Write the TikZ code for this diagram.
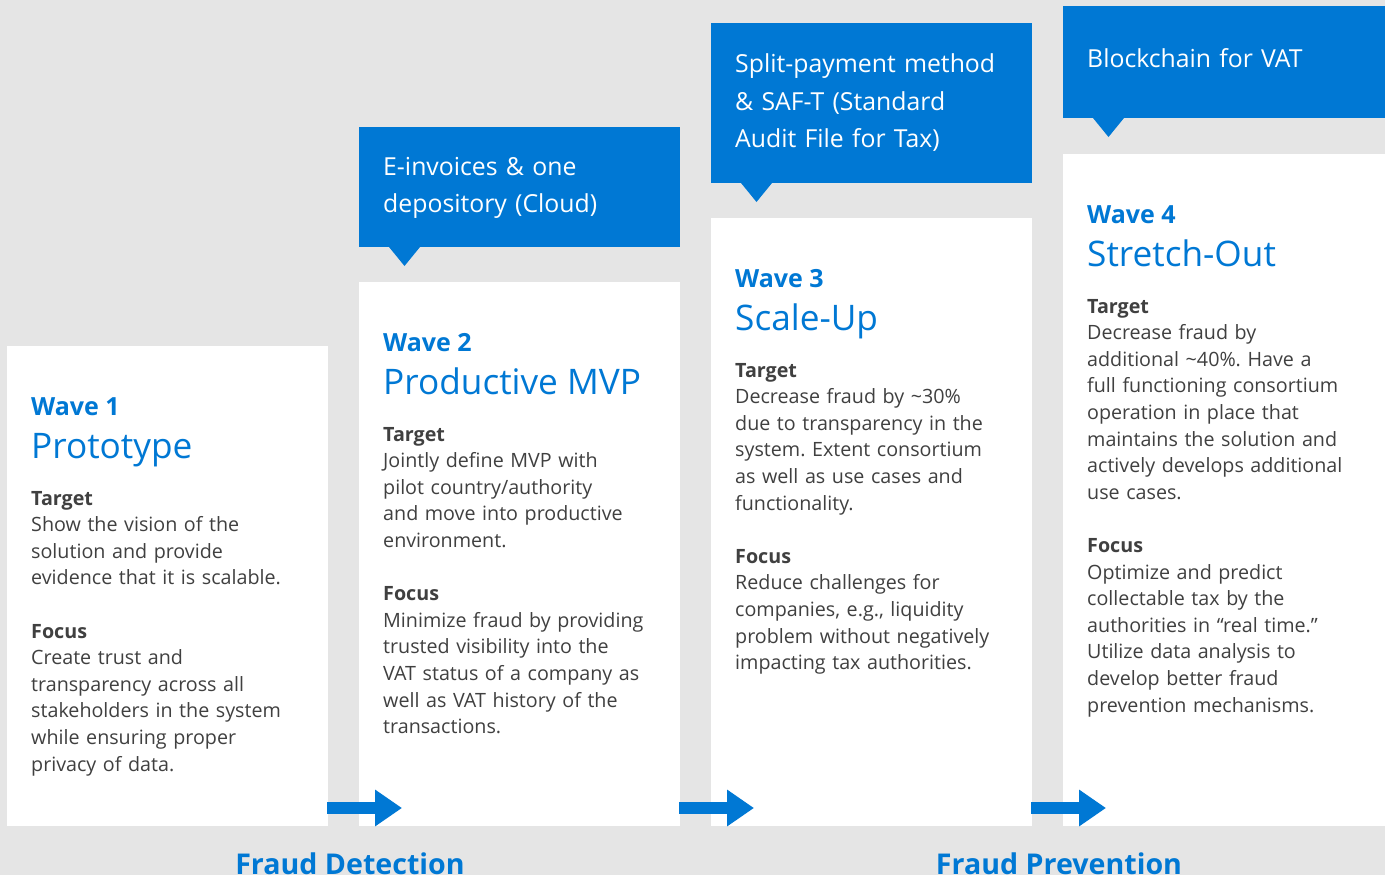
\documentclass[tikz,border=0pt]{standalone}
\usepackage{fontspec}
\setmainfont{Open Sans}
\usetikzlibrary{arrows.meta}
\definecolor{msblue}{HTML}{0078D4}
\definecolor{bgcol}{HTML}{E5E5E5}
\definecolor{bodytext}{HTML}{404040}
\frenchspacing
\begin{document}
\begin{tikzpicture}[x=1pt,y=-1pt,
  card/.style={fill=white, draw=none, anchor=north west, minimum width=321pt, inner sep=0pt, outer sep=0pt},
  callout/.style={fill=msblue, draw=none, anchor=north west, minimum width=321pt, inner sep=0pt, outer sep=0pt},
  calltext/.style={anchor=base west, text=white, inner sep=0pt, align=left, text width=300pt, font=\fontsize{24.8pt}{37.5pt}\selectfont},
  wavelbl/.style={anchor=base west, text=msblue, inner sep=0pt, font=\bfseries\fontsize{25pt}{30pt}\selectfont},
  wavetitle/.style={anchor=base west, text=msblue, inner sep=0pt, font=\fontsize{35.2pt}{40pt}\selectfont},
  body/.style={anchor=base west, text=bodytext, inner sep=0pt, align=left, text width=300pt, font=\fontsize{19.7pt}{26.6pt}\selectfont},
  flow/.style={draw=msblue, line width=12pt, -{Triangle[length=27pt,width=35pt]}},
  phase/.style={anchor=base, text=msblue, inner sep=0pt, font=\bfseries\fontsize{28.6pt}{34pt}\selectfont}
]
\useasboundingbox (0,0) rectangle (1385,875);
\fill[bgcol] (0,0) rectangle (1385,875);

% cards
\node[card, minimum height=480pt] (c1) at (7,346) {};
\node[card, minimum height=544pt] (c2) at (359,282) {};
\node[card, minimum height=608pt] (c3) at (711,218) {};
\node[card, minimum height=672pt, minimum width=322pt] (c4) at (1063,154) {};

% callouts
\node[callout, minimum height=120pt] (b2) at (359,127) {};
\node[callout, minimum height=160pt] (b3) at (711,23) {};
\node[callout, minimum height=112pt, minimum width=322pt] (b4) at (1063,6) {};
\foreach \b in {b2,b3,b4}{
  \fill[msblue] ([xshift=30pt]\b.south west) -- ++(31pt,0pt) -- ++(-15.5pt,-19pt) -- cycle;
}

\node[calltext] (t2) at (383,175) {E-invoices \& one\\depository (Cloud)};
\node[calltext] (t3) at (735,73) {Split-payment method\\\& SAF-T (Standard\\Audit File for Tax)};
\node[calltext] (t4) at (1087,67) {Blockchain for VAT};

% titles
\node[wavelbl] (w1) at (31,415) {Wave 1};
\node[wavetitle] (n1) at (31,458) {Prototype};
\node[wavelbl] (w2) at (383,351) {Wave 2};
\node[wavetitle] (n2) at (383,394) {Productive MVP};
\node[wavelbl] (w3) at (735,287) {Wave 3};
\node[wavetitle] (n3) at (735,330) {Scale-Up};
\node[wavelbl] (w4) at (1087,223) {Wave 4};
\node[wavetitle] (n4) at (1087,266) {Stretch-Out};

% body texts
\node[body] (d1) at (31,505) {\textbf{Target}\\Show the vision of the\\solution and provide\\evidence that it is scalable.\\[26.6pt]
\textbf{Focus}\\Create trust and\\transparency across all\\stakeholders in the system\\while ensuring proper\\privacy of data.};
\node[body] (d2) at (383,441) {\textbf{Target}\\Jointly define MVP with\\pilot country/authority\\and move into productive\\environment.\\[26.6pt]
\textbf{Focus}\\Minimize fraud by providing\\trusted visibility into the\\VAT status of a company as\\well as VAT history of the\\transactions.};
\node[body] (d3) at (735,377) {\textbf{Target}\\Decrease fraud by \textasciitilde30\%\\due to transparency in the\\system. Extent consortium\\as well as use cases and\\functionality.\\[26.6pt]
\textbf{Focus}\\Reduce challenges for\\companies, e.g., liquidity\\problem without negatively\\impacting tax authorities.};
\node[body] (d4) at (1087,313) {\textbf{Target}\\Decrease fraud by\\additional \textasciitilde40\%. Have a\\full functioning consortium\\operation in place that\\maintains the solution and\\actively develops additional\\use cases.\\[26.6pt]
\textbf{Focus}\\Optimize and predict\\collectable tax by the\\authorities in “real time.”\\Utilize data analysis to\\develop better fraud\\prevention mechanisms.};

% flow arrows
\draw[flow] ([xshift=-1pt,yshift=18pt]c1.south east) -- ([xshift=43pt,yshift=18pt]c2.south west);
\draw[flow] ([xshift=-1pt,yshift=18pt]c2.south east) -- ([xshift=43pt,yshift=18pt]c3.south west);
\draw[flow] ([xshift=-1pt,yshift=18pt]c3.south east) -- ([xshift=43pt,yshift=18pt]c4.south west);

% phases
\node[phase] (p1) at (350,874) {Fraud Detection};
\node[phase] (p2) at (1059,874) {Fraud Prevention};
\end{tikzpicture}
\end{document}
